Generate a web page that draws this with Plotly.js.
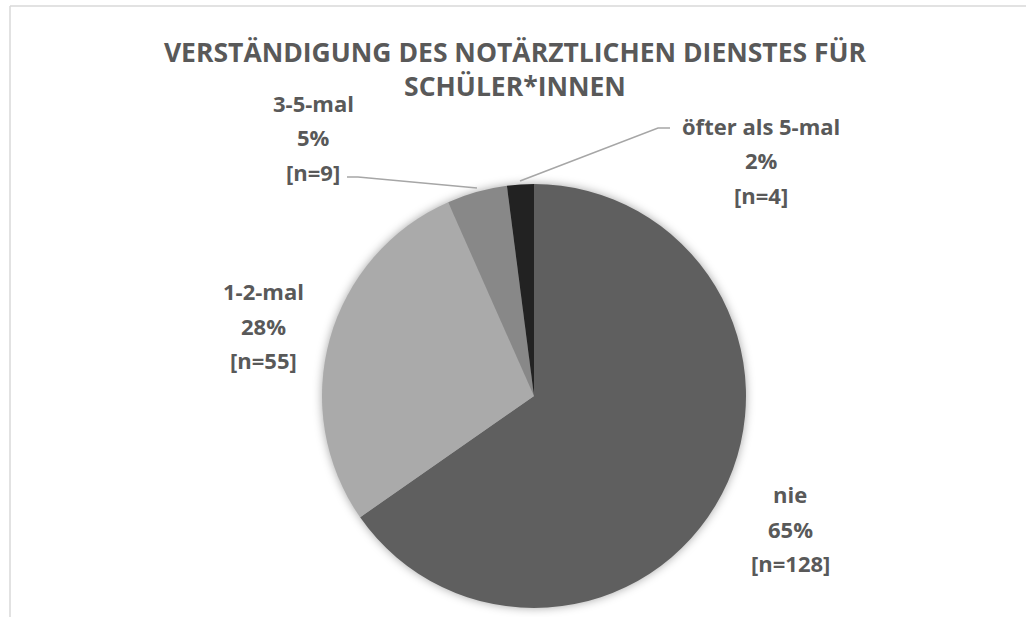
<!DOCTYPE html>
<html>
<head>
<meta charset="utf-8">
<script src="https://cdn.plot.ly/plotly-3.0.1.min.js"></script>
<style>
html, body { margin: 0; padding: 0; background: #fff; }
#chart { width: 1026px; height: 617px; }
.pielayer .trace { filter: drop-shadow(0px 0px 5px rgba(0,0,0,0.35)); }
</style>
</head>
<body>
<div id="chart"></div>
<script>
// ---- data ----
const categories = ["nie", "1-2-mal", "3-5-mal", "öfter als 5-mal"];
const counts = [128, 55, 9, 4];
const percentLabels = ["65%", "28%", "5%", "2%"];
const sliceColors = ["#5f5f5f", "#aaaaaa", "#888888", "#222222"];
const chartTitle = "VERSTÄNDIGUNG DES NOTÄRZTLICHEN DIENSTES FÜR<br>SCHÜLER*INNEN";

// ---- layout helpers (pixel -> paper) ----
const W = 1026, H = 617;
const px = x => x / W;
const py = y => 1 - y / H;

// label anchor positions (center x, first line y) per category, in px
const labelPos = [[790, 494], [263, 291], [313, 103], [761, 126]];
const lineGap = 34.5;
const textColor = "#595959";

const annotations = [];
categories.forEach((c, i) => {
  const lines = [c, percentLabels[i], "[n=" + counts[i] + "]"];
  lines.forEach((t, k) => {
    annotations.push({
      text: t, showarrow: false, xref: "paper", yref: "paper",
      x: px(labelPos[i][0]), y: py(labelPos[i][1] + k * lineGap),
      xanchor: "center", yanchor: "middle",
      font: { family: "Open Sans", size: 22, color: textColor, weight: 700 }
    });
  });
});

const leader = (pts) => ({
  type: "path", xref: "paper", yref: "paper",
  path: "M " + pts.map(p => px(p[0]) + "," + py(p[1])).join(" L "),
  line: { color: "#a6a6a6", width: 1.5 }
});

const shapes = [
  { type: "line", xref: "paper", yref: "paper", x0: px(10), x1: 1, y0: py(6), y1: py(6), line: { color: "#d9d9d9", width: 1.5 } },
  { type: "line", xref: "paper", yref: "paper", x0: px(10), x1: px(10), y0: py(6), y1: 0, line: { color: "#d9d9d9", width: 1.5 } },
  leader([[347, 177], [358, 177], [477, 188]]),
  leader([[670, 128], [658, 128], [520, 181]])
];

const trace = {
  type: "pie",
  labels: categories,
  values: counts,
  marker: { colors: sliceColors, line: { width: 0 } },
  sort: false,
  direction: "clockwise",
  rotation: 0,
  textinfo: "none",
  hoverinfo: "label+value+percent",
  domain: { x: [px(322), px(746)], y: [py(608), py(184)] },
  showlegend: false
};

const layout = {
  width: W, height: H,
  margin: { l: 0, r: 0, t: 0, b: 0 },
  paper_bgcolor: "#ffffff",
  plot_bgcolor: "#ffffff",
  showlegend: false,
  title: {
    text: chartTitle,
    x: px(515), xanchor: "center",
    y: py(62), yanchor: "middle",
    xref: "paper", yref: "container",
    font: { family: "Open Sans", size: 26.5, color: textColor, weight: 700 }
  },
  annotations: annotations,
  shapes: shapes
};

Plotly.newPlot("chart", [trace], layout, { displayModeBar: false, staticPlot: true });
</script>
</body>
</html>
